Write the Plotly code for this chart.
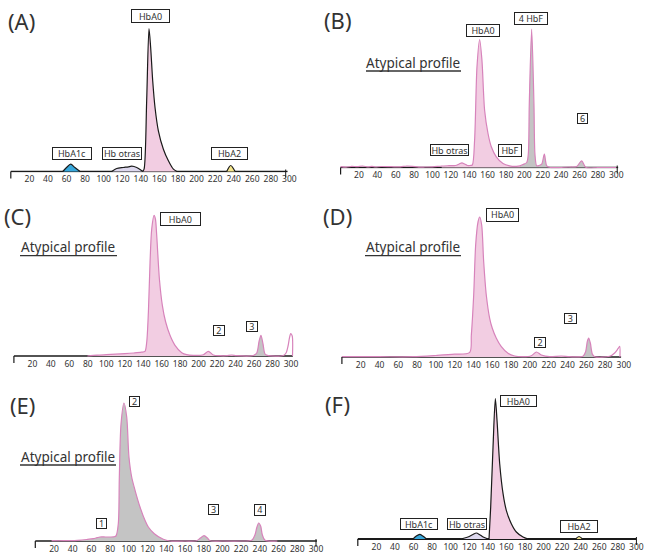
import plotly.graph_objects as go

W, H = 646, 554

# ---------------- data (x = retention units, y = signal height) ----------------
tick_vals = [20, 40, 60, 80, 100, 120, 140, 160, 180, 200, 220, 240, 260, 280, 300]
tick_text = [str(v) for v in tick_vals]

# Panel A (normal profile)
a_hba0_x = [142, 143.5, 146.3, 148.8, 150.6, 152.8, 155.3, 158.9, 164.3, 169.7, 175.1, 178.7]
a_hba0_y = [0, 2.3, 70.7, 143, 124, 90.7, 64, 40.7, 22.3, 10.7, 2.3, 0]
a_hba1c_x = [56, 60, 64.5, 69, 74.5]
a_hba1c_y = [0, 4, 7.3, 4, 0]
a_otras_x = [108.7, 114, 121.2, 126.6, 130.2, 135.6, 139.2, 142]
a_otras_y = [0, 3, 4, 4.7, 5.3, 4, 2, 0]
a_hba2_x = [232.5, 236.8, 241.5]
a_hba2_y = [0, 6, 0]

# Panel B
b_x = [0, 6, 12, 18, 24, 30, 34, 38, 44, 55, 65, 72, 78, 85, 92, 100, 110, 118, 125, 129, 132,
       135, 138, 141, 143.3, 145.8, 148.4, 151.3, 153.8, 156.7, 160.4, 164.0, 169.4, 176.7, 183.9,
       191.2, 195.2, 198.5, 202.5, 204.2, 205.3, 207.9, 210.4, 211.5, 213.4, 216, 218.8, 221.7,
       224.3, 227.9, 240, 250, 256.9, 262.3, 267, 280, 300]
b_y = [0.8, 0.3, 1.2, 0.8, 1.5, 0.5, 1.2, 0.5, 1, 0.8, 0.6, 1.5, 1.2, 0.4, 0.5, 0.6, 1.5, 1.8, 2,
       3.5, 4.7, 3.5, 2, 2, 2.5, 27.3, 100.7, 128, 107.3, 57.3, 34, 20.7, 10.7, 4, 1.7, 1.2, 1.7,
       3, 5, 13, 63, 138.3, 63, 13, 1.7, 2, 3.3, 13.3, 1.7, 0, 0, 0.5, 1, 6.7, 0, 0, 0]

# Panel C
c_x = [79.6, 90, 100, 110, 120, 130, 138, 141.9, 143.8, 145.6, 147.4, 149.2, 151.7, 153.2, 154.6,
       157.5, 160.7, 164.3, 169.0, 174.4, 181.7, 187.1, 194.3, 205.1, 210.5, 215.9, 223.2, 230,
       235.8, 241, 259.2, 262.9, 265.5, 267.5, 269.7, 271.9, 275.5, 291.7, 294.6, 296.8, 298.3,
       299.7, 301.3, 301.6]
c_y = [0, 0.8, 1.3, 1.8, 2.3, 3, 3.8, 4.7, 14, 44, 94, 127, 140.7, 137, 120.7, 77.3, 50.7, 34,
       20.7, 10.7, 3.3, 1.3, 0.7, 1.3, 4.7, 1, 0.3, 0.3, 1, 0.3, 0.5, 3, 15, 20.7, 12, 2, 0.3,
       0.5, 3, 10, 18, 22.3, 20, 0]

# Panel D
d_x = [0, 40, 75.7, 100, 120, 136, 137.7, 140.2, 142.3, 144.8, 146.6, 148.7, 150.8, 153.6, 157.2,
       160, 164.3, 169.6, 176.7, 183.8, 192.7, 201.5, 206.9, 212.2, 221, 233.4, 242.3, 256.5,
       259.3, 261.1, 262.5, 264.3, 266.4, 268.9, 284.9, 290.2, 293.7, 295.5, 295.8]
d_y = [0.3, 0.3, 0.3, 1.5, 2.8, 4.7, 22, 62, 112, 135, 140, 132, 95.7, 62, 38.7, 28.7, 18.7, 10.3,
       3.7, 1, 0.3, 1.3, 5, 2, 0.3, 1, 0.3, 0.7, 5.3, 15.7, 19, 14, 3, 0.3, 0.7, 4, 8.3, 10.7, 0]

# Panel E
e_x = [17.5, 30, 45, 55, 62, 66, 69, 75, 80, 84, 86.2, 88.7, 89.8, 91.6, 94.8, 97.7, 100.1, 103,
       106.6, 111.9, 117.2, 120.8, 127.2, 136.8, 143.9, 160, 172.3, 176.5, 180.3, 184, 186.7, 200,
       220, 231.2, 234.8, 236.6, 238.7, 240.9, 242.6, 245.5, 258.7]
e_y = [0.3, 0.3, 0.7, 1.5, 2.3, 3.3, 4, 4, 4, 4.2, 5, 17.3, 64, 117, 138, 124, 84, 64, 50.7, 34,
       20.7, 14, 7.3, 1.7, 0, 0, 0.3, 3, 5.3, 3, 0.3, 0, 0, 0.7, 6.3, 13, 18, 14.7, 6.3, 0.7, 0]

# Panel F (normal profile)
f_hba0_x = [141.3, 143.1, 145.6, 148.1, 149.9, 152.8, 156.4, 159.9, 165.3, 170.7, 177.9, 183.3]
f_hba0_y = [0, 32, 92, 140.3, 118.7, 75.3, 45.3, 28.7, 15.3, 7, 2, 0]
f_hba1c_x = [59.5, 63, 66.7, 70, 73.9]
f_hba1c_y = [0, 3, 4.7, 3, 0]
f_otras_x = [109.8, 115, 120, 124, 127.7, 131, 135, 140.2]
f_otras_y = [0, 1, 2.5, 4.5, 6, 4.5, 2, 0]
f_hba2_x = [234.5, 238.2, 242]
f_hba2_y = [0, 2.5, 0]

# ---------------- styling ----------------
PINK_LINE = '#d783bb'
PINK_FILL = '#f2cde2'
GREY_FILL = '#c4c4c4'
BLACK = '#1a1a1a'
BLUE = '#38a8dc'
YELLOW = '#f6e68c'
LAVENDER = '#ddd8ee'
TXT = '#333333'
FONT = 'Noto Sans'

# panel geometry in pixels: x0 (px of x=0), px per unit, baseline px, axis end unit
panels = [
    dict(x0=10.8, ppu=0.9287, base=171.5, end=298, end_tick=296, lw=1.4),
    dict(x0=340.6, ppu=0.919, base=167.5, end=302, end_tick=301, lw=1.4),
    dict(x0=13.9, ppu=0.9237, base=356.0, end=302, end_tick=None, lw=1.4),
    dict(x0=341.9, ppu=0.94, base=357.0, end=297, end_tick=None, lw=1.4),
    dict(x0=35.3, ppu=0.9357, base=541.0, end=301, end_tick=300, lw=1.6),
    dict(x0=357.8, ppu=0.9287, base=539.0, end=300, end_tick=300, lw=2.0),
]
XMIN, XMAX = -2, 304
YMIN, YMAX = -1, 150

def px(x):
    return x / W

def py(y):
    return 1 - y / H

fig = go.Figure()
layout = dict(width=W, height=H, margin=dict(l=0, r=0, t=0, b=0, autoexpand=False),
              template='none',
              paper_bgcolor='white', plot_bgcolor='rgba(0,0,0,0)',
              showlegend=False, font=dict(family=FONT, color=TXT))
shapes = []
annotations = []

for i, p in enumerate(panels, start=1):
    sx = '' if i == 1 else str(i)
    left = p['x0'] + XMIN * p['ppu']
    right = p['x0'] + XMAX * p['ppu']
    bottom = p['base'] - YMIN
    top = p['base'] - YMAX
    layout['xaxis' + sx] = dict(domain=[px(left), px(right)], range=[XMIN, XMAX],
                                anchor='y' + sx, showgrid=False, zeroline=False, showline=False,
                                automargin=False,
                                tickmode='array', tickvals=tick_vals, ticktext=tick_text,
                                ticks='', ticklabelstandoff=0,
                                tickfont=dict(family=FONT, size=8.5, color=TXT), fixedrange=True)
    layout['yaxis' + sx] = dict(domain=[py(bottom), py(top)], range=[YMIN, YMAX],
                                anchor='x' + sx, visible=False, automargin=False, fixedrange=True)
    # axis line
    shapes.append(dict(type='line', xref='x' + sx, yref='y' + sx, x0=0, x1=p['end'], y0=0, y1=0,
                       line=dict(color=BLACK, width=p['lw']), layer='below'))
    # start tick
    shapes.append(dict(type='line', xref='x' + sx, yref='paper', x0=0, x1=0,
                       y0=py(p['base']), y1=py(p['base'] + 7),
                       line=dict(color=BLACK, width=1.2)))
    if p['end_tick'] is not None:
        shapes.append(dict(type='line', xref='x' + sx, yref='paper', x0=p['end_tick'], x1=p['end_tick'],
                           y0=py(p['base'] - 2), y1=py(p['base'] + 6),
                           line=dict(color=BLACK, width=1.0)))


def add_peak(i, xs, ys, fill, line, width=1.2):
    sx = '' if i == 1 else str(i)
    fig.add_trace(go.Scatter(x=xs, y=ys, mode='lines', fill='tozeroy', fillcolor=fill,
                             line=dict(color=line, width=width, shape='spline', smoothing=0.8),
                             xaxis='x' + sx, yaxis='y' + sx, hoverinfo='skip'))


def add_segmented(i, xs, ys, segments, line, width=1.2):
    sx = '' if i == 1 else str(i)
    for lo, hi, col in segments:
        sub = [(a, b) for a, b in zip(xs, ys) if lo <= a <= hi]
        fig.add_trace(go.Scatter(x=[s[0] for s in sub], y=[s[1] for s in sub], mode='lines',
                                 fill='tozeroy', fillcolor=col,
                                 line=dict(color='rgba(0,0,0,0)', width=0, shape='spline', smoothing=0.8),
                                 xaxis='x' + sx, yaxis='y' + sx, hoverinfo='skip'))
    fig.add_trace(go.Scatter(x=xs, y=ys, mode='lines',
                             line=dict(color=line, width=width, shape='spline', smoothing=0.8),
                             xaxis='x' + sx, yaxis='y' + sx, hoverinfo='skip'))


# Panel A
add_peak(1, a_hba1c_x, a_hba1c_y, BLUE, BLACK)
add_peak(1, a_otras_x, a_otras_y, LAVENDER, BLACK)
add_peak(1, a_hba0_x, a_hba0_y, PINK_FILL, BLACK)
add_peak(1, a_hba2_x, a_hba2_y, YELLOW, BLACK)
# Panel B
add_segmented(2, b_x, b_y, [(110, 195.2, PINK_FILL), (195.2, 280, GREY_FILL)], PINK_LINE)
# Panel C
add_segmented(3, c_x, c_y, [(79.6, 259.2, PINK_FILL), (259.2, 275.5, GREY_FILL)], PINK_LINE)
# Panel D
add_segmented(4, d_x, d_y, [(75.7, 256.5, PINK_FILL), (256.5, 268.9, GREY_FILL)], PINK_LINE)
# Panel E
add_segmented(5, e_x, e_y, [(17.5, 258.7, GREY_FILL)], PINK_LINE)
# Panel F
add_peak(6, f_hba1c_x, f_hba1c_y, BLUE, BLACK)
add_peak(6, f_otras_x, f_otras_y, LAVENDER, BLACK)
add_peak(6, f_hba0_x, f_hba0_y, PINK_FILL, BLACK)
add_peak(6, f_hba2_x, f_hba2_y, YELLOW, BLACK)

# ---------------- text ----------------
panel_letters = [('(A)', 21.5, 21), ('(B)', 338, 19.5), ('(C)', 17, 215.5),
                 ('(D)', 337, 215.5), ('(E)', 22, 404.5), ('(F)', 337, 403.5)]
for t, x, y in panel_letters:
    annotations.append(dict(text=t, x=px(x), y=py(y), xref='paper', yref='paper',
                            xanchor='center', yanchor='middle', showarrow=False,
                            font=dict(family=FONT, size=22, color=TXT)))

boxes = [
    ('HbA0', 150.5, 16, 39, 14), ('HbA1c', 72, 153.5, 40, 13), ('Hb otras', 122, 153.5, 40, 13),
    ('HbA2', 229.5, 153.5, 37, 13),
    ('HbA0', 482.7, 30.3, 34, 13), ('4 HbF', 531, 18.3, 34, 13.3), ('Hb otras', 449.3, 150, 39, 12),
    ('HbF', 510, 150.3, 24, 12.7), ('6', 582, 118.7, 11, 11),
    ('HbA0', 180.3, 219, 40.7, 14), ('2', 218.5, 330, 11.7, 10.5), ('3', 252, 326.7, 11.7, 10.5),
    ('HbA0', 502, 215, 33.3, 13.7), ('3', 570, 318, 12.7, 10.5), ('2', 539.7, 342, 12, 11),
    ('2', 134.7, 401, 11, 10.5), ('1', 101, 523, 11, 10.5), ('3', 213.3, 509.5, 11.3, 11),
    ('4', 260, 509.7, 11.7, 11.7),
    ('HbA0', 518, 401, 36.6, 12.3), ('HbA1c', 419, 524, 38, 12.3), ('Hb otras', 467, 524, 40, 12.3),
    ('HbA2', 579, 526, 38, 12.7),
]
for t, x, y, w, h in boxes:
    annotations.append(dict(text=t, x=px(x), y=py(y), xref='paper', yref='paper',
                            xanchor='center', yanchor='middle', showarrow=False,
                            width=w - 2, height=h - 2, borderpad=0, borderwidth=1,
                            bordercolor='#222222', bgcolor='white', align='center',
                            font=dict(family=FONT, size=9, color=TXT)))

atypical = [(413, 63, 366, 461, 71), (68, 247, 20, 117, 255.7), (413, 247, 365, 461, 255.7),
            (68.3, 457, 20, 116, 465)]
for x, y, ux0, ux1, uy in atypical:
    annotations.append(dict(text='Atypical profile', x=px(x), y=py(y), xref='paper', yref='paper',
                            xanchor='center', yanchor='middle', showarrow=False,
                            font=dict(family=FONT, size=13.5, color=TXT)))
    shapes.append(dict(type='line', xref='paper', yref='paper', x0=px(ux0), x1=px(ux1),
                       y0=py(uy), y1=py(uy), line=dict(color=TXT, width=1.3)))

layout['shapes'] = shapes
layout['annotations'] = annotations
fig.update_layout(**layout)
fig.write_html('out.html', config={'displayModeBar': False, 'staticPlot': True},
               post_script="document.body.style.margin='0';document.body.style.padding='0';"
                           "document.body.style.overflow='hidden';")
